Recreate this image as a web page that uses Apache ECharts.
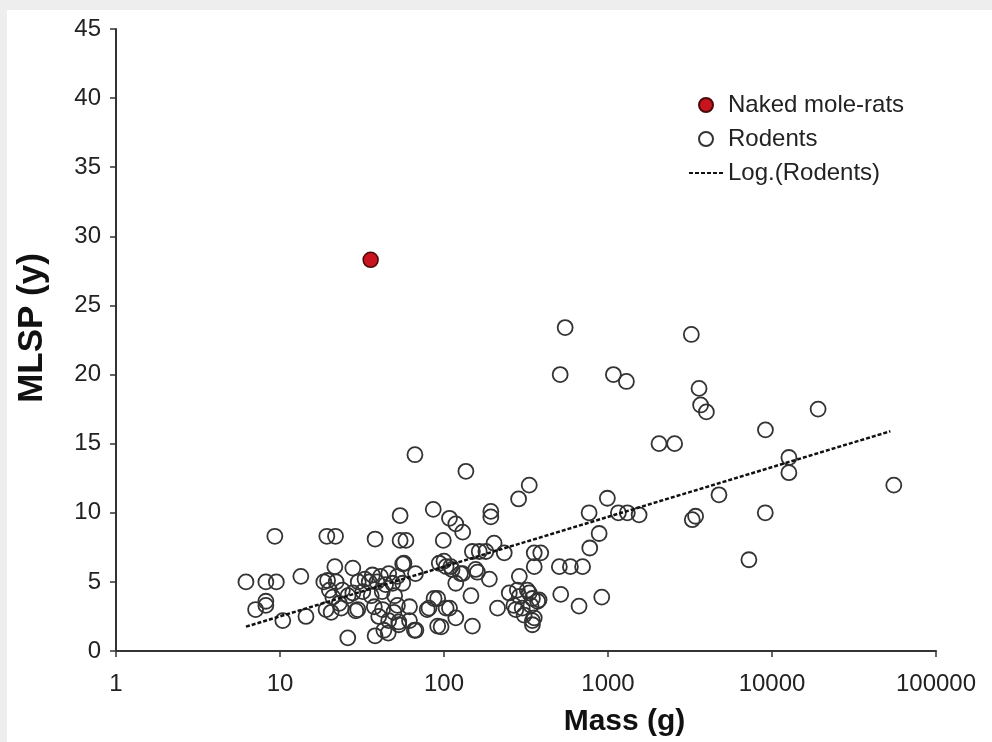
<!DOCTYPE html>
<html>
<head>
<meta charset="utf-8">
<script src="https://cdn.jsdelivr.net/npm/echarts@6/dist/echarts.min.js"></script>
<style>
  html, body { margin: 0; padding: 0; background: #eeeeee; }
  #chart { position: absolute; left: 7px; top: 10px; width: 985px; height: 732px; background: #ffffff; }
</style>
</head>
<body>
<div id="chart"></div>
<script>
// Mass (g) and MLSP (y) of rodents
const rodentMass = [
  6.2, 8.2, 9.5, 13.4, 7.1, 8.2, 8.2, 10.4, 14.4, 9.3,
  19.3, 21.8, 38, 21.6, 27.8, 18.5, 22, 19.5, 20.5, 23.6,
  29, 25.9, 38, 45.7, 43, 54, 54, 57, 67, 93.6,
  103, 36.6, 41, 46, 52, 48.6, 56, 33, 39, 44,
  24, 27.8, 32, 20, 21, 23, 29.8, 19.1, 37.6, 42.2,
  49.5, 40, 46, 53, 61.6, 61.6, 52, 81, 91.5, 103,
  66, 91.5, 53, 36, 42, 50, 35, 26, 30,
  66.5, 136, 331, 285, 86, 108, 118, 130, 193, 193,
  58.6, 99, 202, 149, 164, 180, 233, 355, 389, 355,
  505, 590, 700, 56, 110, 100, 112, 126, 130, 118,
  160, 156, 189, 288, 146, 87, 515, 916, 666, 250,
  288, 331, 372, 280, 322, 346, 212, 274, 308, 346,
  346, 79, 108, 118, 96, 149, 67.4, 267, 300, 339,
  380, 355,
  548, 511, 1079, 1295, 3222, 3590, 3670, 3980, 2047, 2548,
  9120, 19100, 12680, 12680, 55300, 4750, 9100, 3420, 3265, 7230,
  991, 1157, 1312, 1548, 767, 883, 774
];
const rodentMLSP = [
  5.0, 5.0, 5.0, 5.4, 3.0, 3.6, 3.3, 2.2, 2.5, 8.3,
  8.3, 8.3, 8.1, 6.1, 6.0, 5.0, 5.0, 5.1, 2.8, 3.1,
  2.9, 0.95, 1.1, 1.3, 1.5, 9.8, 8.0, 6.35, 5.6, 6.35,
  6.1, 5.5, 5.4, 5.6, 5.4, 4.9, 4.9, 5.2, 5.0, 4.8,
  4.4, 4.2, 4.3, 4.4, 3.9, 3.45, 3.0, 3.0, 3.2, 3.0,
  2.8, 2.5, 2.2, 2.1, 3.2, 2.2, 3.3, 3.1, 3.8, 3.1,
  1.5, 1.8, 1.9, 4.0, 4.3, 4.0, 5.0, 4.0, 5.0,
  14.2, 13.0, 12.0, 11.0, 10.25, 9.6, 9.2, 8.6, 10.1, 9.7,
  8.0, 8.0, 7.8, 7.2, 7.2, 7.2, 7.1, 7.1, 7.1, 6.1,
  6.1, 6.1, 6.1, 6.3, 6.1, 6.5, 5.9, 5.6, 5.6, 4.9,
  5.7, 5.9, 5.2, 5.4, 4.0, 3.8, 4.1, 3.9, 3.25, 4.2,
  3.95, 4.2, 3.6, 4.4, 4.4, 3.8, 3.1, 3.0, 2.6, 2.2,
  1.9, 3.0, 3.1, 2.4, 1.75, 1.8, 1.5, 3.3, 3.1, 3.3,
  3.7, 2.4,
  23.4, 20.0, 20.0, 19.5, 22.9, 19.0, 17.8, 17.3, 15.0, 15.0,
  16.0, 17.5, 14.0, 12.9, 12.0, 11.3, 10.0, 9.75, 9.5, 6.6,
  11.05, 10.0, 10.0, 9.85, 10.0, 8.5, 7.45
];
// Naked mole-rats
const moleRatMass = [35.7];
const moleRatMLSP = [28.3];
// Logarithmic trend line end points (Log.(Rodents))
const trendMass = [6.2, 52700];
const trendMLSP = [1.76, 15.9];
// Axis ticks
const xTicks = ['1', '10', '100', '1000', '10000', '100000'];
const yTicks = [0, 5, 10, 15, 20, 25, 30, 35, 40, 45];

const zip = (a, b) => a.map((v, i) => [v, b[i]]);
const font = '"Liberation Sans", Arial, sans-serif';

const chart = echarts.init(document.getElementById('chart'), null, { renderer: 'canvas' });
chart.setOption({
  animation: false,
  backgroundColor: '#ffffff',
  grid: { left: 103, right: 56, top: 19, bottom: 91, containLabel: false },
  legend: {
    orient: 'vertical',
    left: 681,
    top: 83,
    padding: 0,
    itemWidth: 34,
    itemHeight: 14,
    itemGap: 10,
    textStyle: { fontFamily: font, fontSize: 24, color: '#222222', lineHeight: 24 },
    data: [
      { name: 'Naked mole-rats' },
      { name: 'Rodents' },
      { name: 'Log.(Rodents)', itemStyle: { color: 'rgba(0,0,0,0)', borderWidth: 0 } }
    ]
  },
  xAxis: {
    type: 'log',
    logBase: 10,
    min: 1,
    max: 100000,
    name: 'Mass (g)',
    nameLocation: 'middle',
    nameGap: 56,
    nameTextStyle: { fontFamily: font, fontSize: 30, fontWeight: 'bold', color: '#111111', padding: [0, 0, 0, 197] },
    axisLine: { lineStyle: { color: '#333333', width: 2 } },
    axisTick: { show: true, length: 6, lineStyle: { color: '#333333', width: 1.5 } },
    minorTick: { show: false },
    splitLine: { show: false },
    axisLabel: {
      fontFamily: font, fontSize: 24, color: '#222222', margin: 21,
      formatter: v => xTicks[Math.round(Math.log10(v))] ?? String(v)
    }
  },
  yAxis: {
    type: 'value',
    min: 0,
    max: 45,
    interval: 5,
    name: 'MLSP (y)',
    nameLocation: 'middle',
    nameGap: 66,
    nameTextStyle: { fontFamily: font, fontSize: 35, fontWeight: 'bold', color: '#111111', padding: [0, 0, 0, 24] },
    axisLine: { show: true, lineStyle: { color: '#333333', width: 2 } },
    axisTick: { show: true, length: 6, lineStyle: { color: '#333333', width: 1.5 } },
    splitLine: { show: false },
    axisLabel: {
      fontFamily: font, fontSize: 24, color: '#222222', margin: 15,
      formatter: v => yTicks.includes(v) ? String(v) : ''
    }
  },
  series: [
    {
      name: 'Naked mole-rats',
      type: 'scatter',
      data: zip(moleRatMass, moleRatMLSP),
      symbol: 'circle',
      symbolSize: 15,
      itemStyle: { color: '#c8141e', borderColor: '#4a0a0a', borderWidth: 1.5, opacity: 1 },
      z: 5
    },
    {
      name: 'Rodents',
      type: 'scatter',
      data: zip(rodentMass, rodentMLSP),
      symbol: 'circle',
      symbolSize: 15,
      itemStyle: { color: 'rgba(255,255,255,0)', borderColor: '#333333', borderWidth: 1.8, opacity: 1 },
      z: 3
    },
    {
      name: 'Log.(Rodents)',
      type: 'line',
      data: zip(trendMass, trendMLSP),
      symbol: 'none',
      lineStyle: { color: '#111111', width: 2.5, type: [4, 2] },
      itemStyle: { color: '#111111' },
      z: 4
    }
  ]
});
</script>
</body>
</html>
